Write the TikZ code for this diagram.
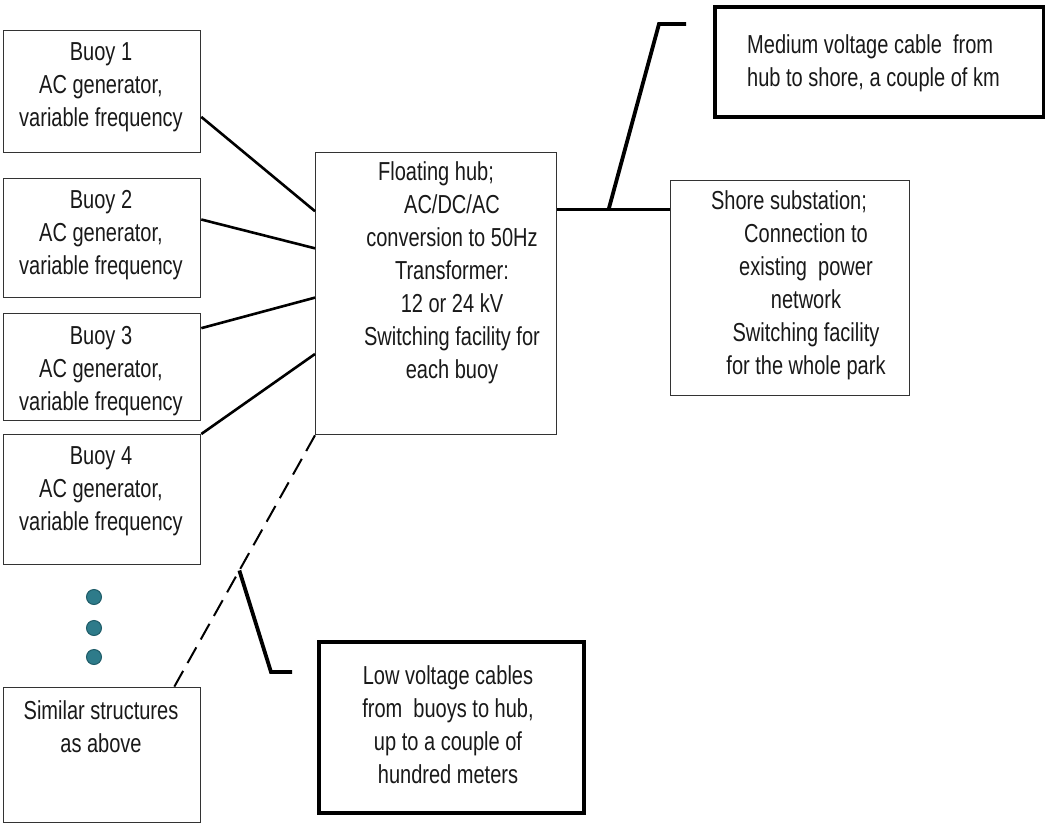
\documentclass[tikz,border=0pt]{standalone}
\usepackage{fontspec}
\setmainfont{Liberation Sans}[FakeStretch=0.77]
\usetikzlibrary{calc}
\definecolor{dotteal}{HTML}{2E7B8A}
\definecolor{dotedge}{HTML}{1F5C68}
\begin{document}
\begin{tikzpicture}[x=1pt,y=-1pt,
  thinbox/.style={draw=black!80, line width=1.3pt, fill=white, rectangle, anchor=north west, inner sep=0},
  thickbox/.style={draw=black, line width=4.3pt, fill=white, rectangle, anchor=north west, inner sep=0},
  txt/.style={align=center, inner sep=0, font=\fontsize{26}{33}\selectfont, text=black!90},
  cable/.style={line width=2.6pt},
  lead/.style={line width=3.8pt},
  lvcable/.style={line width=2pt, dash pattern=on 18pt off 9pt},
  moredot/.style={circle, fill=dotteal, draw=dotedge, line width=1pt, minimum size=15pt, inner sep=0}]
\useasboundingbox (0,0) rectangle (1045,825);

% buoys and the placeholder for further ones
\node[thinbox, minimum width=197pt, minimum height=122pt] (b1) at (3,30) {};
\node[thinbox, minimum width=197pt, minimum height=119pt] (b2) at (3,178) {};
\node[thinbox, minimum width=197pt, minimum height=107pt] (b3) at (3,313) {};
\node[thinbox, minimum width=197pt, minimum height=130pt] (b4) at (3,434) {};
\node[thinbox, minimum width=197pt, minimum height=135pt] (sim) at (3,687) {};

\node[txt] (t1) at (101,87) {Buoy 1\\AC generator,\\variable frequency};
\node[txt] (t2) at (101,235) {Buoy 2\\AC generator,\\variable frequency};
\node[txt] (t3) at (101,371) {Buoy 3\\AC generator,\\variable frequency};
\node[txt] (t4) at (101,491) {Buoy 4\\AC generator,\\variable frequency};
\node[txt] (tsim) at (101,727) {Similar structures\\as above};

% hub and shore
\node[thinbox, minimum width=241pt, minimum height=282pt] (hub) at (315,152) {};
\node[txt] (thub) at (452,273) {Floating hub;\hspace*{32pt}\\AC/DC/AC\\conversion to 50Hz\\Transformer:\\12 or 24 kV\\Switching facility for\\each buoy};

\node[thinbox, minimum width=239pt, minimum height=215pt] (shore) at (670,180) {};
\node[txt] (tshore) at (806,285) {Shore substation;\hspace*{34pt}\\Connection to\\existing\ \ power\\network\\Switching facility\\for the whole park};

% callouts
\node[thickbox, minimum width=329pt, minimum height=110pt] (mv) at (713,5) {};
\node[txt, align=left, anchor=west] (tmv) at (747,63) {Medium voltage cable\ \ from\\hub\ to shore, a couple of km};

\node[thickbox, minimum width=265pt, minimum height=171pt] (lv) at (317,640) {};
\node[txt] (tlv) at (448,725) {Low voltage cables\\from\ \ buoys to hub,\\up to a couple of\\hundred meters};

% ellipsis dots
\node[moredot] (d1) at (94,597) {};
\node[moredot] (d2) at (94,628) {};
\node[moredot] (d3) at (94,657) {};

% low voltage cables to the hub
\draw[cable] ($(b1.north east)!0.705!(b1.south east)$) -- ($(hub.north west)!0.209!(hub.south west)$);
\draw[cable] ($(b2.north east)!0.345!(b2.south east)$) -- ($(hub.north west)!0.34!(hub.south west)$);
\draw[cable] ($(b3.north east)!0.14!(b3.south east)$) -- ($(hub.north west)!0.514!(hub.south west)$);
\draw[cable] (b4.north east) -- ($(hub.north west)!0.713!(hub.south west)$);
\coordinate (simtop) at ($(sim.north west)!0.863!(sim.north east)$);
\draw[lvcable] (hub.south west) -- (simtop);

% medium voltage cable to shore
\coordinate (hubout) at ($(hub.north east)!0.202!(hub.south east)$);
\coordinate (shorein) at (shore.west |- hubout);
\draw[cable] (hubout) -- (shorein);

% callout leaders
\coordinate (mvfoot) at ($(hubout)!0.456!(shorein)$);
\coordinate (mvknee) at (659,24);
\coordinate (mvend) at (686,24);
\draw[lead] (mvfoot) -- (mvknee) -- (mvend);

\coordinate (lvfoot) at ($(hub.south west)!0.537!(simtop)$);
\coordinate (lvknee) at (271,672);
\coordinate (lvend) at (292,672);
\draw[lead] (lvfoot) -- (lvknee) -- (lvend);
\end{tikzpicture}
\end{document}
